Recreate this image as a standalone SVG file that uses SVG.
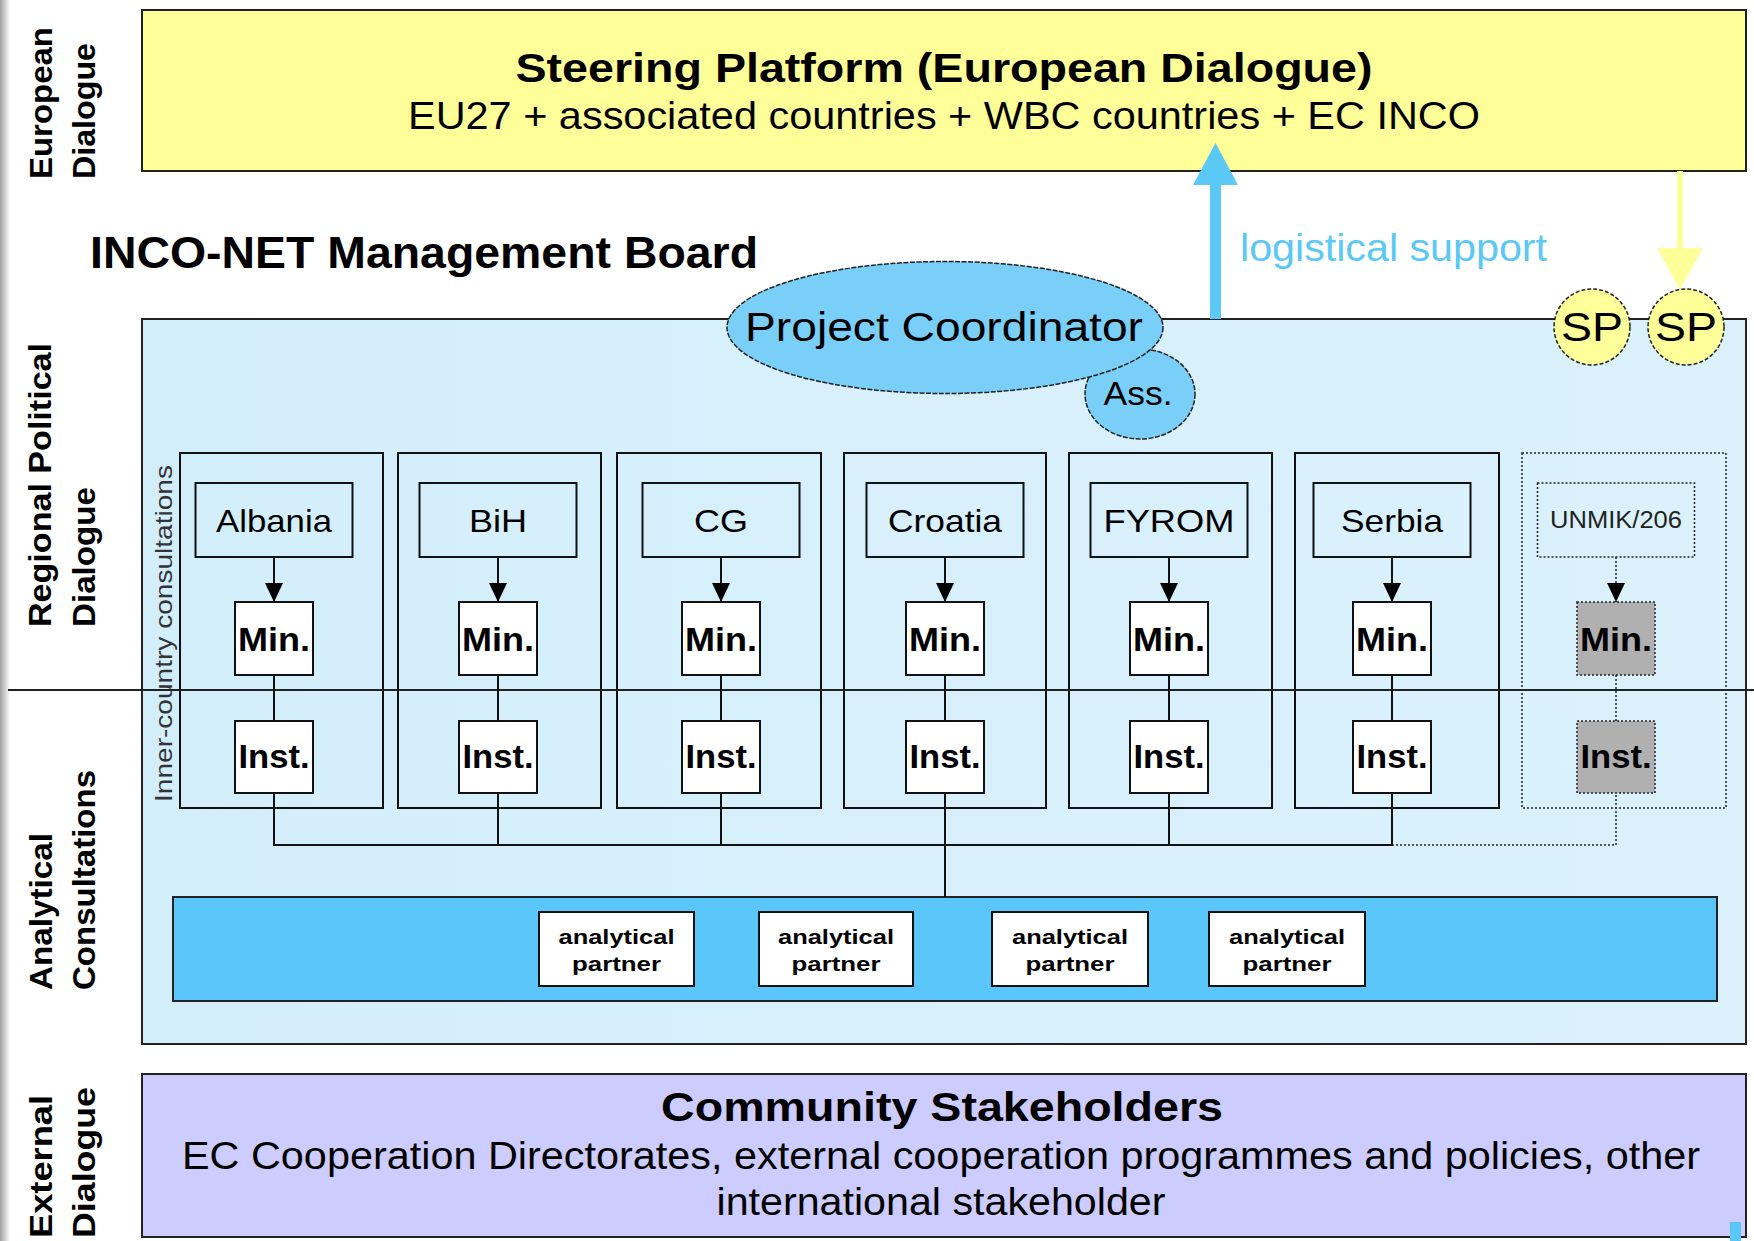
<svg xmlns="http://www.w3.org/2000/svg" width="1754" height="1241" viewBox="0 0 1754 1241">
<style>
text{font-family:"Liberation Sans",Arial,sans-serif;fill:#000}
.b{font-weight:bold}
.side{font-weight:bold;font-size:31px}
.box{stroke:#222;stroke-width:2}
.cbox{fill:none;stroke:#111;stroke-width:2}
.nbox{fill:none;stroke:#111;stroke-width:2}
.wbox{fill:#fff;stroke:#111;stroke-width:2}
.gbox{fill:#b0b0b0;stroke:#222;stroke-width:1.5;stroke-dasharray:2 2}
.dot{fill:none;stroke:#222;stroke-width:1.5;stroke-dasharray:2 2}
.ln{stroke:#111;stroke-width:2;fill:none}
.dln{stroke:#222;stroke-width:1.5;stroke-dasharray:2 2;fill:none}
.nm{font-size:32px;text-anchor:middle}
.mi{font-size:33px;font-weight:bold;text-anchor:middle}
.ap{font-size:21px;font-weight:bold;text-anchor:middle}
</style>
<defs>
<linearGradient id="edge" x1="0" y1="0" x2="1" y2="0">
<stop offset="0" stop-color="#a0a0a0"/><stop offset="1" stop-color="#ffffff"/>
</linearGradient>
<linearGradient id="lb" x1="0" y1="0" x2="1" y2="0">
<stop offset="0" stop-color="#d3eefb"/><stop offset="1" stop-color="#dbf2fd"/>
</linearGradient>
<marker id="ah" viewBox="0 0 19 18" refX="19" refY="9" markerWidth="19" markerHeight="18" orient="auto" markerUnits="userSpaceOnUse">
<path d="M0,0 L19,9 L0,18 z" fill="#000"/>
</marker>
</defs>
<rect x="0" y="0" width="1754" height="1241" fill="#fff"/>
<rect x="0" y="0" width="10" height="1241" fill="url(#edge)"/>

<g id="side-labels">
<text class="side" transform="translate(52,179) rotate(-90)" textLength="152" lengthAdjust="spacingAndGlyphs">European</text>
<text class="side" transform="translate(95,179) rotate(-90)" textLength="136" lengthAdjust="spacingAndGlyphs">Dialogue</text>
<text class="side" transform="translate(51,627) rotate(-90)" textLength="284" lengthAdjust="spacingAndGlyphs">Regional Political</text>
<text class="side" transform="translate(95,627) rotate(-90)" textLength="140" lengthAdjust="spacingAndGlyphs">Dialogue</text>
<text class="side" transform="translate(52,990) rotate(-90)" textLength="157" lengthAdjust="spacingAndGlyphs">Analytical</text>
<text class="side" transform="translate(95,990) rotate(-90)" textLength="220" lengthAdjust="spacingAndGlyphs">Consultations</text>
<text class="side" transform="translate(52,1238) rotate(-90)" textLength="143" lengthAdjust="spacingAndGlyphs">External</text>
<text class="side" transform="translate(95,1238) rotate(-90)" textLength="151" lengthAdjust="spacingAndGlyphs">Dialogue</text>
</g>

<g id="steering-platform">
<rect class="box" x="142" y="10" width="1604" height="161" fill="#ffff99"/>
<text class="b" x="944" y="82" font-size="40" text-anchor="middle" textLength="857" lengthAdjust="spacingAndGlyphs">Steering Platform (European Dialogue)</text>
<text x="944" y="129" font-size="39" text-anchor="middle" textLength="1072" lengthAdjust="spacingAndGlyphs">EU27 + associated countries + WBC countries + EC INCO</text>
</g>

<g id="management-board-title">
<text class="b" x="90" y="268" font-size="44" textLength="668" lengthAdjust="spacingAndGlyphs">INCO-NET Management Board</text>
</g>

<g id="management-board">
<rect class="box" x="142" y="319" width="1604" height="725" fill="url(#lb)"/>
</g>

<g id="inner-country-label">
<text transform="translate(172,802) rotate(-90)" font-size="24" textLength="337" lengthAdjust="spacingAndGlyphs" style="fill:#333">Inner-country consultations</text>
</g>

<g id="analytical-bar">
<rect class="box" x="173" y="897" width="1544" height="104" fill="#5bc6fa"/>
</g>
<g id="partner-1"><rect class="wbox" x="539" y="912" width="155" height="74"/><text class="ap" x="616.5" y="944" textLength="116" lengthAdjust="spacingAndGlyphs">analytical</text><text class="ap" x="616.5" y="971" textLength="89" lengthAdjust="spacingAndGlyphs">partner</text></g>
<g id="partner-2"><rect class="wbox" x="759" y="912" width="154" height="74"/><text class="ap" x="836" y="944" textLength="116" lengthAdjust="spacingAndGlyphs">analytical</text><text class="ap" x="836" y="971" textLength="89" lengthAdjust="spacingAndGlyphs">partner</text></g>
<g id="partner-3"><rect class="wbox" x="992" y="912" width="156" height="74"/><text class="ap" x="1070" y="944" textLength="116" lengthAdjust="spacingAndGlyphs">analytical</text><text class="ap" x="1070" y="971" textLength="89" lengthAdjust="spacingAndGlyphs">partner</text></g>
<g id="partner-4"><rect class="wbox" x="1209" y="912" width="156" height="74"/><text class="ap" x="1287" y="944" textLength="116" lengthAdjust="spacingAndGlyphs">analytical</text><text class="ap" x="1287" y="971" textLength="89" lengthAdjust="spacingAndGlyphs">partner</text></g>

<g id="albania">
<rect class="cbox" x="180" y="453" width="203" height="355"/>
<rect class="nbox" x="195.5" y="483" width="157" height="74"/>
<text class="nm" x="274" y="532" textLength="116" lengthAdjust="spacingAndGlyphs">Albania</text>
<rect class="wbox" x="235" y="602" width="78" height="73"/><text class="mi" x="274" y="651" textLength="72" lengthAdjust="spacingAndGlyphs">Min.</text>
<rect class="wbox" x="235" y="721" width="78" height="72"/><text class="mi" x="274" y="768" textLength="71" lengthAdjust="spacingAndGlyphs">Inst.</text>
</g>
<g id="bih">
<rect class="cbox" x="398" y="453" width="203" height="355"/>
<rect class="nbox" x="419.5" y="483" width="157" height="74"/>
<text class="nm" x="498" y="532" textLength="58" lengthAdjust="spacingAndGlyphs">BiH</text>
<rect class="wbox" x="459" y="602" width="78" height="73"/><text class="mi" x="498" y="651" textLength="72" lengthAdjust="spacingAndGlyphs">Min.</text>
<rect class="wbox" x="459" y="721" width="78" height="72"/><text class="mi" x="498" y="768" textLength="71" lengthAdjust="spacingAndGlyphs">Inst.</text>
</g>
<g id="cg">
<rect class="cbox" x="617" y="453" width="204" height="355"/>
<rect class="nbox" x="642.5" y="483" width="157" height="74"/>
<text class="nm" x="721" y="532" textLength="54" lengthAdjust="spacingAndGlyphs">CG</text>
<rect class="wbox" x="682" y="602" width="78" height="73"/><text class="mi" x="721" y="651" textLength="72" lengthAdjust="spacingAndGlyphs">Min.</text>
<rect class="wbox" x="682" y="721" width="78" height="72"/><text class="mi" x="721" y="768" textLength="71" lengthAdjust="spacingAndGlyphs">Inst.</text>
</g>
<g id="croatia">
<rect class="cbox" x="844" y="453" width="202" height="355"/>
<rect class="nbox" x="866.5" y="483" width="157" height="74"/>
<text class="nm" x="945" y="532" textLength="114" lengthAdjust="spacingAndGlyphs">Croatia</text>
<rect class="wbox" x="906" y="602" width="78" height="73"/><text class="mi" x="945" y="651" textLength="72" lengthAdjust="spacingAndGlyphs">Min.</text>
<rect class="wbox" x="906" y="721" width="78" height="72"/><text class="mi" x="945" y="768" textLength="71" lengthAdjust="spacingAndGlyphs">Inst.</text>
</g>
<g id="fyrom">
<rect class="cbox" x="1069" y="453" width="203" height="355"/>
<rect class="nbox" x="1090.5" y="483" width="157" height="74"/>
<text class="nm" x="1169" y="532" textLength="131" lengthAdjust="spacingAndGlyphs">FYROM</text>
<rect class="wbox" x="1130" y="602" width="78" height="73"/><text class="mi" x="1169" y="651" textLength="72" lengthAdjust="spacingAndGlyphs">Min.</text>
<rect class="wbox" x="1130" y="721" width="78" height="72"/><text class="mi" x="1169" y="768" textLength="71" lengthAdjust="spacingAndGlyphs">Inst.</text>
</g>
<g id="serbia">
<rect class="cbox" x="1295" y="453" width="204" height="355"/>
<rect class="nbox" x="1313.5" y="483" width="157" height="74"/>
<text class="nm" x="1392" y="532" textLength="102" lengthAdjust="spacingAndGlyphs">Serbia</text>
<rect class="wbox" x="1353" y="602" width="78" height="73"/><text class="mi" x="1392" y="651" textLength="72" lengthAdjust="spacingAndGlyphs">Min.</text>
<rect class="wbox" x="1353" y="721" width="78" height="72"/><text class="mi" x="1392" y="768" textLength="71" lengthAdjust="spacingAndGlyphs">Inst.</text>
</g>
<g id="unmik">
<rect class="dot" x="1522" y="453" width="204" height="355"/>
<rect class="dot" x="1537.5" y="483" width="157" height="74"/>
<text x="1616" y="528" font-size="23" text-anchor="middle" textLength="132" lengthAdjust="spacingAndGlyphs" style="fill:#222">UNMIK/206</text>
<rect class="gbox" x="1577" y="602" width="78" height="73"/><text class="mi" x="1616" y="651" textLength="72" lengthAdjust="spacingAndGlyphs">Min.</text>
<rect class="gbox" x="1577" y="721" width="78" height="72"/><text class="mi" x="1616" y="768" textLength="71" lengthAdjust="spacingAndGlyphs">Inst.</text>
</g>

<g id="connectors">
<line x1="8" y1="690" x2="1754" y2="690" stroke="#222" stroke-width="2"/>
<line class="ln" x1="274" y1="557" x2="274" y2="602" marker-end="url(#ah)"/>
<line class="ln" x1="498" y1="557" x2="498" y2="602" marker-end="url(#ah)"/>
<line class="ln" x1="721" y1="557" x2="721" y2="602" marker-end="url(#ah)"/>
<line class="ln" x1="945" y1="557" x2="945" y2="602" marker-end="url(#ah)"/>
<line class="ln" x1="1169" y1="557" x2="1169" y2="602" marker-end="url(#ah)"/>
<line class="ln" x1="1392" y1="557" x2="1392" y2="602" marker-end="url(#ah)"/>
<line class="dln" x1="1616" y1="557" x2="1616" y2="602" marker-end="url(#ah)"/>
<line class="ln" x1="274" y1="675" x2="274" y2="721"/>
<line class="ln" x1="498" y1="675" x2="498" y2="721"/>
<line class="ln" x1="721" y1="675" x2="721" y2="721"/>
<line class="ln" x1="945" y1="675" x2="945" y2="721"/>
<line class="ln" x1="1169" y1="675" x2="1169" y2="721"/>
<line class="ln" x1="1392" y1="675" x2="1392" y2="721"/>
<line class="dln" x1="1616" y1="675" x2="1616" y2="721"/>
<polyline class="ln" points="274,793 274,845 1392,845 1392,793"/>
<line class="ln" x1="498" y1="793" x2="498" y2="845"/>
<line class="ln" x1="721" y1="793" x2="721" y2="845"/>
<line class="ln" x1="945" y1="793" x2="945" y2="897"/>
<line class="ln" x1="1169" y1="793" x2="1169" y2="845"/>
<polyline class="dln" points="1392,845 1616,845 1616,793"/>
<polygon points="1210,319 1221,319 1221,185 1238,185 1215.5,143 1193,185 1210,185" fill="#5bc8f5"/>
<line x1="1680" y1="171" x2="1680" y2="250" stroke="#ffff99" stroke-width="6"/>
<polygon points="1657,248 1703,248 1680,290" fill="#ffff99"/>
</g>

<g id="logistical-support-label">
<text x="1240" y="261" font-size="38" textLength="307" lengthAdjust="spacingAndGlyphs" style="fill:#5bc8f5">logistical support</text>
</g>

<g id="assistant">
<ellipse cx="1140" cy="394" rx="55" ry="45" fill="#7acff8" stroke="#222" stroke-width="1.5" stroke-dasharray="5 1.5"/>
<text x="1138" y="405" font-size="34" text-anchor="middle" textLength="69" lengthAdjust="spacingAndGlyphs">Ass.</text>
</g>
<g id="project-coordinator">
<ellipse cx="945" cy="327.5" rx="218" ry="66" fill="#7acff8" stroke="#222" stroke-width="1.5" stroke-dasharray="5 1.5"/>
<text x="944" y="341" font-size="40" text-anchor="middle" textLength="398" lengthAdjust="spacingAndGlyphs">Project Coordinator</text>
</g>
<g id="sp-1">
<circle cx="1592" cy="327" r="38" fill="#ffff99" stroke="#222" stroke-width="1.5" stroke-dasharray="4 2"/>
<text x="1592" y="341" font-size="40" text-anchor="middle" textLength="62" lengthAdjust="spacingAndGlyphs">SP</text>
</g>
<g id="sp-2">
<circle cx="1686" cy="327" r="38" fill="#ffff99" stroke="#222" stroke-width="1.5" stroke-dasharray="4 2"/>
<text x="1686" y="341" font-size="40" text-anchor="middle" textLength="62" lengthAdjust="spacingAndGlyphs">SP</text>
</g>

<g id="community-stakeholders">
<rect class="box" x="142" y="1074" width="1604" height="163" fill="#ccccff"/>
<text class="b" x="942" y="1121" font-size="40" text-anchor="middle" textLength="562" lengthAdjust="spacingAndGlyphs">Community Stakeholders</text>
<text x="941" y="1169" font-size="38" text-anchor="middle" textLength="1518" lengthAdjust="spacingAndGlyphs">EC Cooperation Directorates, external cooperation programmes and policies, other</text>
<text x="941" y="1215" font-size="38" text-anchor="middle" textLength="449" lengthAdjust="spacingAndGlyphs">international stakeholder</text>
</g>
<rect x="1730" y="1222" width="11" height="19" fill="#5bc6fa"/>
</svg>
